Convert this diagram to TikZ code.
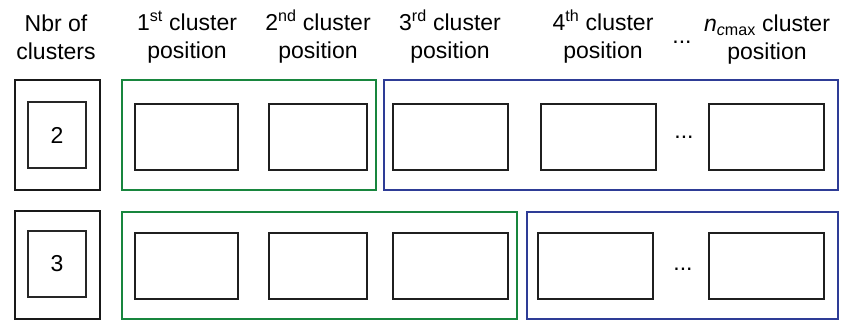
\documentclass[tikz,border=0pt]{standalone}
\usepackage{fontspec}
\setmainfont{Liberation Sans}
\definecolor{grn}{RGB}{24,134,62}
\definecolor{blu}{RGB}{46,60,150}
\begin{document}
\begin{tikzpicture}[x=1pt,y=-1pt,
  every node/.style={inner sep=0pt,outer sep=0pt},
  outerbox/.style={draw=black!90,line width=2.6pt,minimum width=85pt},
  innerbox/.style={draw=black!85,line width=1.6pt,minimum width=58pt,minimum height=66pt,font=\fontsize{23}{28}\selectfont},
  grpgreen/.style={draw=grn,line width=2.4pt},
  grpblue/.style={draw=blu,line width=2.4pt},
  cellbox/.style={draw=black!88,line width=2pt,minimum height=66pt},
  head/.style={align=center,font=\fontsize{23}{28}\selectfont},
  dots/.style={font=\fontsize{23}{28}\selectfont}]
\useasboundingbox (0,0) rectangle (841,320);
% headers
\node[head] (h0) at (56,37) {Nbr of\\clusters};
\node[head] (h1) at (187,37) {1\textsuperscript{st} cluster\\position};
\node[head] (h2) at (318,37) {2\textsuperscript{nd} cluster\\position};
\node[head] (h3) at (450,37) {3\textsuperscript{rd} cluster\\position};
\node[head] (h4) at (603,37) {4\textsuperscript{th} cluster\\position};
\node[head] (h5) at (767,39.5) {\textit{n}\smash{\textsubscript{\textit{c}max}} cluster\\position};
\node[dots] (hd) at (682,42) {...};
% row 1
\node[outerbox,minimum height=110pt] (o1) at (57.5,135) {};
\node[innerbox] (i1) at (57,135) {2};
\node[grpgreen,minimum width=254pt,minimum height=110pt] (g1) at (249,135) {};
\node[grpblue,minimum width=454pt,minimum height=110pt] (b1) at (611,135) {};
\node[cellbox,minimum width=103pt] (r1c1) at (186.5,137) {};
\node[cellbox,minimum width=98pt] (r1c2) at (318,137) {};
\node[cellbox,minimum width=115pt] (r1c3) at (450.5,137) {};
\node[cellbox,minimum width=115pt] (r1c4) at (598.5,137) {};
\node[cellbox,minimum width=115pt] (r1c5) at (766.5,137) {};
\node[dots] (d1) at (684,137) {...};
% row 2
\node[outerbox,minimum height=108pt] (o2) at (57.5,265) {};
\node[innerbox] (i2) at (57,264) {3};
\node[grpgreen,minimum width=395pt,minimum height=107pt] (g2) at (319.5,265.5) {};
\node[grpblue,minimum width=311pt,minimum height=107pt] (b2) at (682.5,265.5) {};
\node[cellbox,minimum width=103pt] (r2c1) at (186.5,266) {};
\node[cellbox,minimum width=98pt] (r2c2) at (318,266) {};
\node[cellbox,minimum width=115pt] (r2c3) at (450.5,266) {};
\node[cellbox,minimum width=115pt] (r2c4) at (595.5,266) {};
\node[cellbox,minimum width=115pt] (r2c5) at (766.5,266) {};
\node[dots] (d2) at (683,269) {...};
\end{tikzpicture}
\end{document}
